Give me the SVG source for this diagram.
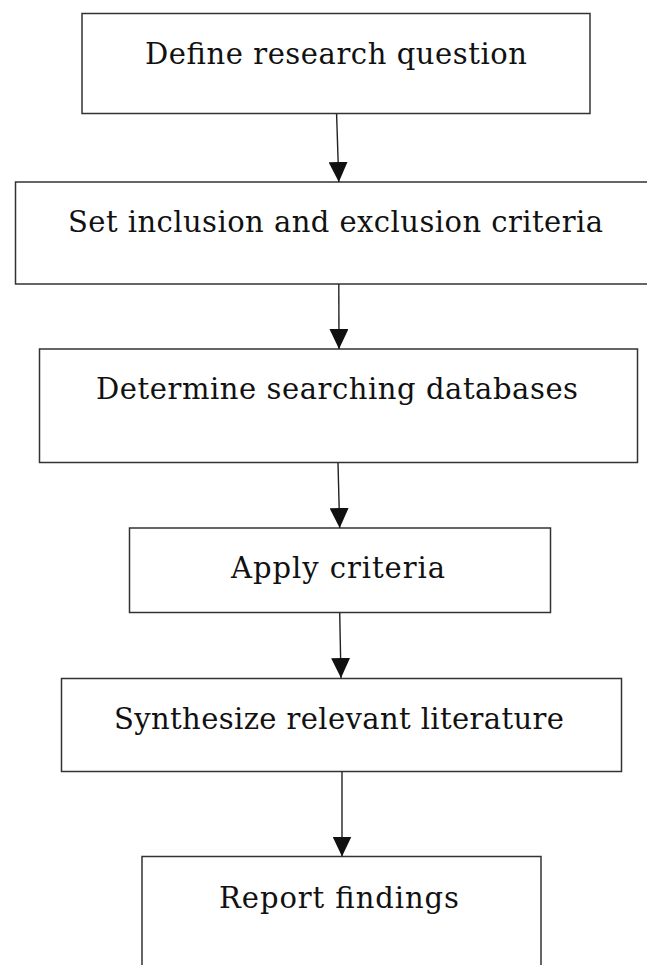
<svg xmlns="http://www.w3.org/2000/svg" width="647" height="965" viewBox="0 0 647 965">
<style>
.box{fill:#fff;stroke:#333;stroke-width:1.5}
.lbl{font-family:"DejaVu Serif","Liberation Serif",serif;font-size:29px;fill:#111;text-anchor:middle}
.edge{stroke:#222;stroke-width:1.4;fill:none;marker-end:url(#ah)}
</style>
<defs>
<marker id="ah" markerUnits="userSpaceOnUse" viewBox="0 0 20 19" refX="20" refY="9.5" markerWidth="20" markerHeight="19" orient="auto">
<path d="M0,0 L20,9.5 L0,19 z" fill="#111"/>
</marker>
</defs>
<rect width="647" height="965" fill="#fff"/>
<g id="n1"><rect class="box" x="82" y="13.5" width="508" height="100"/><text class="lbl" x="336" y="64" textLength="382">Define research question</text></g>
<g id="n2"><rect class="box" x="15.5" y="182" width="640" height="102"/><text class="lbl" x="335.5" y="232" textLength="535">Set inclusion and exclusion criteria</text></g>
<g id="n3"><rect class="box" x="39.5" y="349" width="598" height="113.5"/><text class="lbl" x="337" y="399" textLength="482">Determine searching databases</text></g>
<g id="n4"><rect class="box" x="129.5" y="528" width="421" height="84.5"/><text class="lbl" x="338" y="578" textLength="214">Apply criteria</text></g>
<g id="n5"><rect class="box" x="61.5" y="678.5" width="560" height="93"/><text class="lbl" x="339" y="729" textLength="450">Synthesize relevant literature</text></g>
<g id="n6"><rect class="box" x="142" y="856.5" width="399" height="120"/><text class="lbl" x="339" y="908" textLength="240">Report findings</text></g>
<g id="edges">
<line class="edge" x1="336.6" y1="114" x2="338.8" y2="182"/>
<line class="edge" x1="338.8" y1="284" x2="339" y2="349"/>
<line class="edge" x1="338" y1="463" x2="339.7" y2="528"/>
<line class="edge" x1="339.7" y1="613" x2="341" y2="678"/>
<line class="edge" x1="342" y1="772" x2="342" y2="856.5"/>
</g>
</svg>
